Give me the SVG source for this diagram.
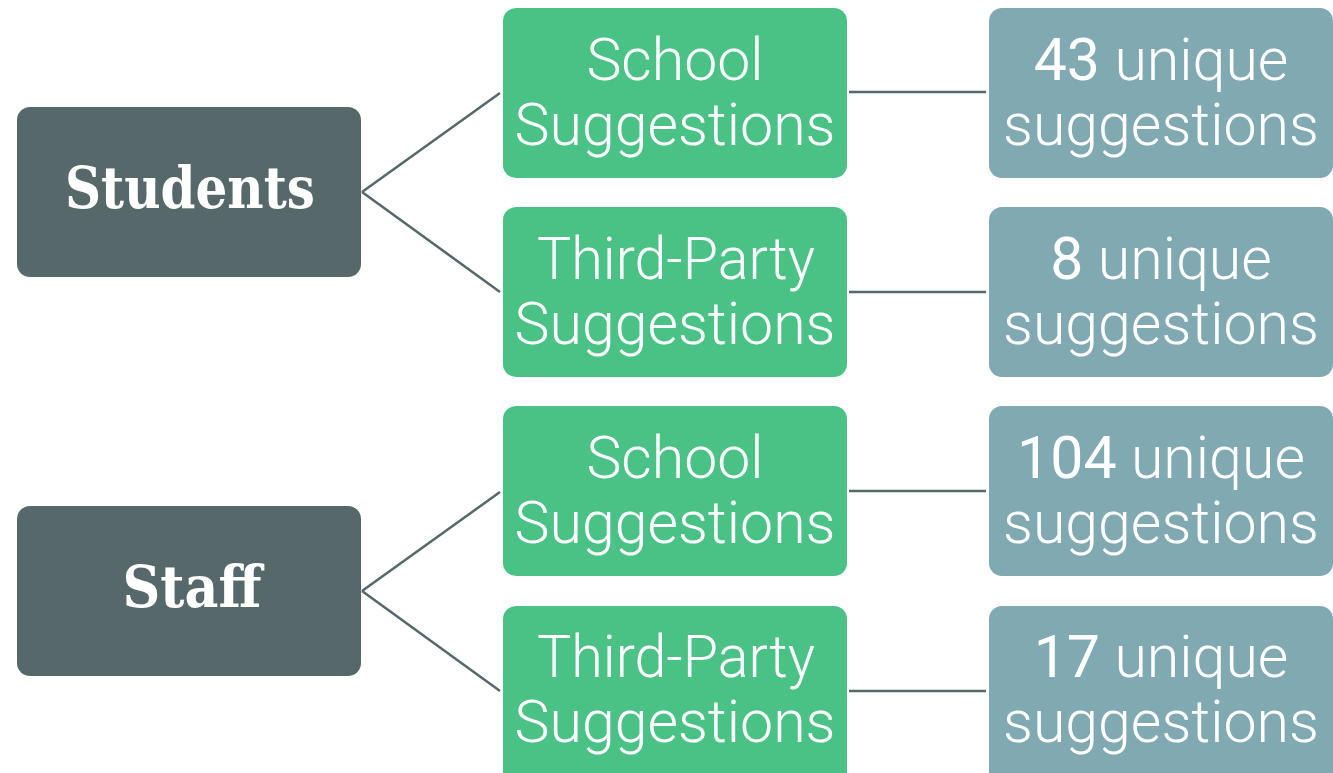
<svg xmlns="http://www.w3.org/2000/svg" width="1333" height="773" viewBox="0 0 1333 773">
<style>
.root{fill:#566869}
.mid{fill:#4ac285}
.leaf{fill:#80a9b2}
.rt{font-family:"DejaVu Serif",serif;font-weight:bold;font-size:57px;fill:#fff;text-anchor:middle}
.t{font-family:Roboto,"Liberation Sans",sans-serif;font-weight:300;font-size:59px;fill:#fff;text-anchor:middle}
.n{font-weight:400}
.c{stroke:#566869;stroke-width:2.5;fill:none}
</style>
<rect width="1333" height="773" fill="#fff"/>
<g id="connectors">
<path class="c" d="M362 192 L500 93 M362 192 L500 292 M362 591 L500 492 M362 591 L500 691"/>
<path class="c" d="M849 92 H986 M849 292 H986 M849 491 H986 M849 691 H986"/>
</g>
<g id="students"><rect class="root" x="17" y="107" width="344" height="170" rx="13"/><text class="rt" x="190" y="208" textLength="250" lengthAdjust="spacingAndGlyphs">Students</text></g>
<g id="staff"><rect class="root" x="17" y="506" width="344" height="170" rx="13"/><text class="rt" x="192" y="607" textLength="139" lengthAdjust="spacingAndGlyphs">Staff</text></g>
<g id="stu-school"><rect class="mid" x="503" y="8" width="344" height="170" rx="13"/><text class="t" x="675" y="80">School</text><text class="t" x="675" y="145">Suggestions</text></g>
<g id="stu-third"><rect class="mid" x="503" y="207" width="344" height="170" rx="13"/><text class="t" x="676" y="279" textLength="278" lengthAdjust="spacingAndGlyphs">Third-Party</text><text class="t" x="675" y="344">Suggestions</text></g>
<g id="staff-school"><rect class="mid" x="503" y="406" width="344" height="170" rx="13"/><text class="t" x="675" y="478">School</text><text class="t" x="675" y="543">Suggestions</text></g>
<g id="staff-third"><rect class="mid" x="503" y="606" width="344" height="180" rx="13"/><text class="t" x="676" y="677" textLength="278" lengthAdjust="spacingAndGlyphs">Third-Party</text><text class="t" x="675" y="742">Suggestions</text></g>
<g id="n43"><rect class="leaf" x="989" y="8" width="344" height="170" rx="13"/><text class="t" x="1161" y="80"><tspan class="n">43</tspan> unique</text><text class="t" x="1161" y="145">suggestions</text></g>
<g id="n8"><rect class="leaf" x="989" y="207" width="344" height="170" rx="13"/><text class="t" x="1161" y="279"><tspan class="n">8</tspan> unique</text><text class="t" x="1161" y="344">suggestions</text></g>
<g id="n104"><rect class="leaf" x="989" y="406" width="344" height="170" rx="13"/><text class="t" x="1161" y="478"><tspan class="n">104</tspan> unique</text><text class="t" x="1161" y="543">suggestions</text></g>
<g id="n17"><rect class="leaf" x="989" y="606" width="344" height="180" rx="13"/><text class="t" x="1161" y="677"><tspan class="n">17</tspan> unique</text><text class="t" x="1161" y="742">suggestions</text></g>
</svg>
